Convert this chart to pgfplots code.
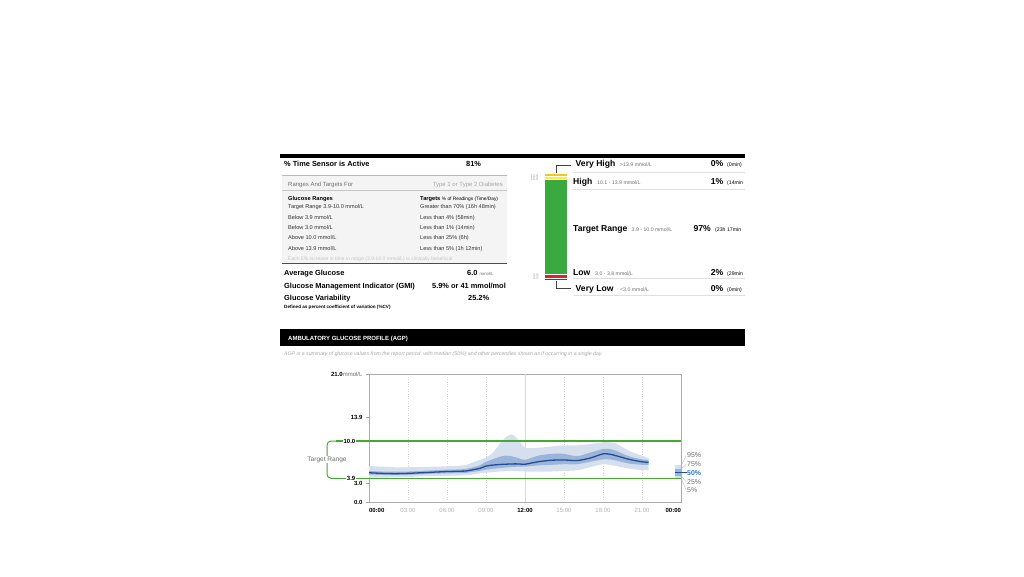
\documentclass[border=0pt]{standalone}
\usepackage{fontspec}
\setmainfont{Liberation Sans}
\usepackage{pgfplots}
\pgfplotsset{compat=1.18}
\usepackage{pgfplotstable}
\newcommand\fs[1]{\fontsize{#1}{#1}\selectfont}
\definecolor{bandlight}{RGB}{214,223,237}
\definecolor{banddark}{RGB}{155,181,218}
\definecolor{medline}{RGB}{34,76,148}
\definecolor{tgreen}{RGB}{70,168,50}
\definecolor{tirgreen}{RGB}{58,170,64}
\definecolor{tiryellow}{RGB}{250,238,60}
\definecolor{tirgold}{RGB}{242,200,30}
\definecolor{tirred}{RGB}{214,38,44}
\definecolor{tirdred}{RGB}{186,24,32}
\definecolor{txtgray}{RGB}{110,110,110}
\definecolor{ltgray}{RGB}{165,165,165}
\definecolor{boxfill}{RGB}{244,244,244}
\definecolor{pctblue}{RGB}{50,120,190}

% hour, 5th, 25th, 50th, 75th, 95th percentile (mmol/L)
\pgfplotstableread{
h p5 p25 p50 p75 p95
0 4.0 4.5 4.8 5.1 5.9
1 4.0 4.45 4.7 5.0 5.8
2 4.05 4.45 4.65 5.0 5.7
3 4.1 4.45 4.7 5.0 5.7
4 4.2 4.55 4.8 5.1 5.75
5 4.25 4.65 4.9 5.2 5.8
6 4.3 4.7 5.0 5.3 5.85
7 4.35 4.75 5.05 5.35 5.95
7.5 4.4 4.8 5.1 5.45 6.1
8 4.5 4.95 5.3 5.7 6.5
8.5 4.7 5.1 5.5 6.0 6.9
9 4.8 5.3 5.9 6.6 7.3
9.5 4.9 5.45 6.05 7.0 8.0
10 5.0 5.55 6.15 7.4 9.4
10.5 5.05 5.65 6.2 7.6 10.6
11 5.1 5.75 6.25 7.5 11.1
11.5 5.05 5.8 6.25 7.2 10.2
12 5.0 5.8 6.2 6.9 8.9
13 5.0 6.0 6.6 7.6 8.9
14 5.0 6.1 6.85 7.9 9.1
15 5.1 6.2 6.9 7.9 9.3
16 5.2 6.2 6.8 7.5 9.3
17 5.7 6.6 7.2 8.1 9.5
18 6.2 7.0 7.9 8.7 9.8
18.5 6.1 7.0 7.85 8.7 9.8
19 5.9 6.8 7.6 8.4 9.6
20 5.5 6.3 7.0 7.5 8.4
21 5.2 6.1 6.6 7.0 7.6
21.5 5.2 6.1 6.5 6.9 7.2
}\agp

\begin{document}
\begin{tikzpicture}[x=1pt,y=-1pt, t/.style={inner sep=0pt, anchor=base west}, r/.style={inner sep=0pt, anchor=base east}]
\path[use as bounding box] (0,0) rectangle (1024,576);

% ---------- top rule ----------
\fill[black] (280,154) rectangle (745,157.5);

% ---------- left block ----------
\node[t,font=\bfseries\fs{7.4}] at (284,166.5) {\% Time Sensor is Active};
\node[t,font=\bfseries\fs{7.4}] at (466,166.5) {81\%};

\fill[boxfill] (282,175) rectangle (507,263.3);
\draw[gray!55, line width=0.6pt] (282,175) -- (507,175);
\draw[gray!45, line width=0.5pt] (282,190) -- (507,190);
\draw[gray!60!black, line width=0.7pt] (282,263.3) -- (507,263.3);
\node[t,font=\fs{6},text=txtgray] at (288,186) {Ranges And Targets For};
\node[r,font=\fs{6},text=ltgray] at (503,186) {Type 1 or Type 2 Diabetes};
\node[t,font=\bfseries\fs{5.7}] at (288,200.5) {Glucose Ranges};
\node[t,font=\fs{5.7}] at (420,200.5) {\textbf{Targets} {\fs{4.8}\% of Readings (Time/Day)}};
\node[t,font=\fs{5.6},text=black!80] at (288,208.5) {Target Range 3.9-10.0 mmol/L};
\node[t,font=\fs{5.6},text=black!80] at (420,208.5) {Greater than 70\% (16h 48min)};
\node[t,font=\fs{5.6},text=black!80] at (288,219) {Below 3.9 mmol/L};
\node[t,font=\fs{5.6},text=black!80] at (420,219) {Less than 4\% (58min)};
\node[t,font=\fs{5.6},text=black!80] at (288,229) {Below 3.0 mmol/L};
\node[t,font=\fs{5.6},text=black!80] at (420,229) {Less than 1\% (14min)};
\node[t,font=\fs{5.6},text=black!80] at (288,239.5) {Above 10.0 mmol/L};
\node[t,font=\fs{5.6},text=black!80] at (420,239.5) {Less than 25\% (6h)};
\node[t,font=\fs{5.6},text=black!80] at (288,250.5) {Above 13.9 mmol/L};
\node[t,font=\fs{5.6},text=black!80] at (420,250.5) {Less than 5\% (1h 12min)};
\node[t,font=\fs{5},text=gray!45] at (288,260.5) {Each 5\% increase in time in range (3.9-10.0 mmol/L) is clinically beneficial};

\node[t,font=\bfseries\fs{7.4}] at (284,275) {Average Glucose};
\node[t,font=\bfseries\fs{7.4}] at (467,275) {6.0 {\mdseries\fs{4.3}\color{txtgray}mmol/L}};
\node[t,font=\bfseries\fs{7.4}] at (284,288.5) {Glucose Management Indicator (GMI)};
\node[t,font=\bfseries\fs{7.4}] at (432,288.5) {5.9\% or 41 mmol/mol};
\node[t,font=\bfseries\fs{7.4}] at (284,300.5) {Glucose Variability};
\node[t,font=\bfseries\fs{7.4}] at (468,300.5) {25.2\%};
\node[t,font=\bfseries\fs{4.6}] at (284,308.5) {Defined as percent coefficient of variation (\%CV)};

% ---------- time in ranges bar ----------
\begin{axis}[
  at={(544pt,-280.5pt)}, anchor=south west,
  scale only axis, width=23pt, height=107.2pt,
  xmin=0, xmax=1, ymin=0, ymax=107.2,
  ybar stacked, bar width=23pt,
  axis line style={draw=none},
  xtick=\empty,
  ytick={2.2,5.8,101.3,104.4},
  yticklabels={3.0,3.9,10.0,13.9},
  ytick pos=left,
  ytick style={draw=none},
  yticklabel style={font=\fs{4}, text=ltgray, xshift=-2pt},
]
\addplot[fill=tirdred, draw=white, line width=0.5pt] coordinates {(0.5,2.2)};
\addplot[fill=tirred, draw=white, line width=0.5pt] coordinates {(0.5,3.6)};
\addplot[fill=tirgreen, draw=white, line width=0.5pt] coordinates {(0.5,95.5)};
\addplot[fill=tiryellow, draw=white, line width=0.5pt] coordinates {(0.5,3.1)};
\addplot[fill=tirgold, draw=white, line width=0.5pt] coordinates {(0.5,2.8)};
\end{axis}

\draw[black!75, line width=0.6pt] (556,173.3) -- (556,165.5) -- (571,165.5);
\draw[black!75, line width=0.6pt] (556,280.5) -- (556,288) -- (571,288);

\node[t,font=\bfseries\fs{8.6}] at (575.5,166.5) {Very High};
\node[t,font=\fs{5.2},text=txtgray] at (620,166.5) {>13.9 mmol/L};
\node[r,font=\bfseries\fs{8.6}] at (723.5,166.5) {0\%};
\node[t,font=\fs{5.2}] at (727,166.5) {(0min)};
\draw[gray!25, line width=0.6pt] (573,172.7) -- (745,172.7);

\node[t,font=\bfseries\fs{8.6}] at (573,184.5) {High};
\node[t,font=\fs{5.2},text=txtgray] at (597,184.5) {10.1 - 13.9 mmol/L};
\node[r,font=\bfseries\fs{8.6}] at (723.5,184.5) {1\%};
\node[t,font=\fs{5.2}] at (727,184.5) {(14min};
\draw[gray!25, line width=0.6pt] (573,189.3) -- (745,189.3);

\node[t,font=\bfseries\fs{8.6}] at (573,231) {Target Range};
\node[t,font=\fs{5.2},text=txtgray] at (631.5,231) {3.9 - 10.0 mmol/L};
\node[r,font=\bfseries\fs{8.6}] at (711,231) {97\%};
\node[t,font=\fs{5.2}] at (715,231) {(23h 17min};

\node[t,font=\bfseries\fs{8.6}] at (573,275) {Low};
\node[t,font=\fs{5.2},text=txtgray] at (595,275) {3.0 - 3.8 mmol/L};
\node[r,font=\bfseries\fs{8.6}] at (723.5,275) {2\%};
\node[t,font=\fs{5.2}] at (727,275) {(29min};
\draw[gray!25, line width=0.6pt] (573,278.3) -- (745,278.3);

\node[t,font=\bfseries\fs{8.6}] at (575.5,291.5) {Very Low};
\node[t,font=\fs{5.2},text=txtgray] at (620,291.5) {<3.0 mmol/L};
\node[r,font=\bfseries\fs{8.6}] at (723.5,291.5) {0\%};
\node[t,font=\fs{5.2}] at (727,291.5) {(0min)};
\draw[gray!25, line width=0.6pt] (573,295) -- (745,295);

% ---------- AGP header ----------
\fill[black] (280,329) rectangle (745,345.7);
\node[t,font=\bfseries\fs{6},text=white] at (288,340.5) {AMBULATORY GLUCOSE PROFILE (AGP)};
\node[t,font=\itshape\fs{5.2},text=gray!70] at (284,355) {AGP is a summary of glucose values from the report period, with median (50\%) and other percentiles shown as if occurring in a single day.};

% ---------- AGP chart ----------
\begin{axis}[
  at={(369pt,-502pt)}, anchor=south west,
  scale only axis, width=312pt, height=128pt,
  xmin=0, xmax=24, ymin=0, ymax=21,
  clip=false,
  axis line style={gray!65, line width=0.6pt},
  xtick={0,3,...,24},
  xticklabels={\makebox[0pt][l]{\textbf{\textcolor{black}{00:00}}},03:00,06:00,09:00,\textbf{\textcolor{black}{12:00}},15:00,18:00,21:00,\makebox[0pt][r]{\textbf{\textcolor{black}{00:00}}}},
  xticklabel style={font=\fs{6}, text=gray!60},
  xtick style={draw=none},
  xmajorgrids,
  major x grid style={dotted, gray!35, line width=0.5pt},
  ytick={0,3,13.9,21},
  ytick pos=left,
  yticklabels={\textbf{0.0},\textbf{3.0},\textbf{13.9},\textbf{21.0}{\mdseries\color{txtgray}mmol/L}},
  yticklabel style={font=\fs{6}},
  ytick style={gray!75, line width=0.5pt},
  tick align=outside, major tick length=3pt,
]
\draw[gray!30, line width=0.5pt] (axis cs:12,0) -- (axis cs:12,21);
% 5-95% band: stacked from p5 up to p95
\addplot[draw=none, stack plots=y, forget plot] table[x=h,y=p5]{\agp};
\addplot[fill=bandlight, draw=none, stack plots=y, smooth, tension=0.4] table[x=h,y expr=\thisrow{p95}-\thisrow{p5}]{\agp} \closedcycle;
% step back down to p25, then 25-75% band
\addplot[draw=none, stack plots=y, forget plot] table[x=h,y expr=\thisrow{p25}-\thisrow{p95}]{\agp};
\addplot[fill=banddark, draw=none, stack plots=y, smooth, tension=0.4] table[x=h,y expr=\thisrow{p75}-\thisrow{p25}]{\agp} \closedcycle;
% median
\addplot[medline, line width=1.3pt, smooth, tension=0.4] table[x=h,y=p50]{\agp};
% value at end of day (00:00)
\addplot[fill=bandlight, draw=none] coordinates {(23.55,4.0) (24,4.0) (24,6.0) (23.55,6.0)} -- cycle;
\addplot[fill=banddark, draw=none] coordinates {(23.55,4.3) (24,4.3) (24,5.4) (23.55,5.4)} -- cycle;
\addplot[medline, line width=1.3pt] coordinates {(23.55,4.8) (24.45,4.8)};
% target range limits
\addplot[tgreen, line width=1.2pt] coordinates {(0,10) (24,10)};
\addplot[tgreen, line width=1.2pt] coordinates {(0,3.9) (24,3.9)};
\end{axis}

% target range bracket
\draw[tgreen, line width=1.2pt] (336,441) -- (369,441);
\draw[tgreen, line width=1.2pt] (336,478.3) -- (369,478.3);
\draw[tgreen, line width=1pt, rounded corners=4pt] (338,441) -- (327,441) -- (327,478.3) -- (338,478.3);
\node[fill=white, inner sep=1pt, font=\fs{6.5}, text=txtgray] at (327,459.5) {Target Range};
\node[fill=white, inner sep=1pt, anchor=east, font=\bfseries\fs{6}] at (356.5,441) {10.0};
\node[fill=white, inner sep=1pt, anchor=east, font=\bfseries\fs{6}] at (356.5,478.3) {3.9};

% percentile legend
\draw[gray!60, line width=0.4pt] (681,466) -- (686,456);
\draw[gray!60, line width=0.4pt] (681,469) -- (686,464.5);
\draw[gray!60, line width=0.4pt] (681,476) -- (686,481.5);
\draw[gray!60, line width=0.4pt] (681,478) -- (686,489.5);
\node[t,font=\fs{7},text=txtgray] at (687,457.3) {95\%};
\node[t,font=\fs{7},text=txtgray] at (687,466.3) {75\%};
\node[t,font=\bfseries\fs{7},text=pctblue] at (687,475) {50\%};
\node[t,font=\fs{7},text=txtgray] at (687,484) {25\%};
\node[t,font=\fs{7},text=txtgray] at (687,492.3) {5\%};
\end{tikzpicture}
\end{document}
